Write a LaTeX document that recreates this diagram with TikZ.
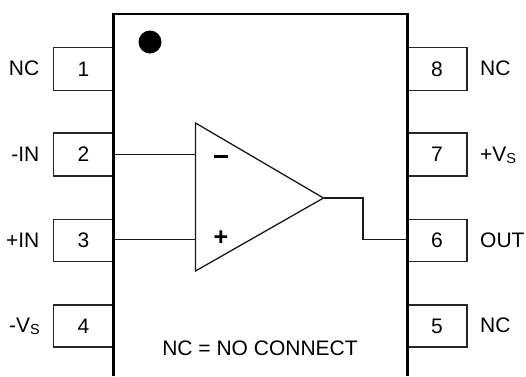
\documentclass[tikz,border=0pt]{standalone}
\usepackage{fontspec}
\setmainfont{Liberation Sans}
\newcommand{\subS}{\raisebox{-0.13em}{\fontsize{14.5}{14.5}\selectfont S}}
\tikzset{
  pinbox/.style={draw=black!85, line width=1.3pt, inner sep=0pt, minimum width=60pt, minimum height=43pt, fill=white, font=\fontsize{21}{24}\selectfont},
  lbl/.style={inner sep=0pt, font=\fontsize{21}{24}\selectfont},
  wire/.style={draw=black!90, line width=1.3pt, line join=miter},
  bodyline/.style={draw=black, line width=2.4pt, line join=miter},
  sign/.style={inner sep=0pt, font=\bfseries\fontsize{25}{27}\selectfont}
}
\begin{document}
\begin{tikzpicture}[x=1pt,y=-1pt]
\useasboundingbox (0,0) rectangle (526,376);
\fill[white] (0,0) rectangle (526,376);
% pins
\node[pinbox] (p1) at (83.5,69) {1};
\node[pinbox] (p2) at (83.5,154.5) {2};
\node[pinbox,minimum height=42pt] (p3) at (83.5,240.5) {3};
\node[pinbox,minimum height=42pt] (p4) at (83.5,326) {4};
\node[pinbox] (p8) at (437,69) {8};
\node[pinbox] (p7) at (437,154.5) {7};
\node[pinbox,minimum height=42pt] (p6) at (437,240.5) {6};
\node[pinbox,minimum height=42pt] (p5) at (437,326) {5};
% package
\coordinate (bl) at (113.5,376);
\coordinate (tl) at (113.5,13.7);
\coordinate (tr) at (407.3,13.7);
\coordinate (br) at (407.3,376);
\draw[bodyline] (bl) -- (tl) -- (tr) -- (br);
\node[circle,fill=black,inner sep=0pt,minimum size=23pt] (dot) at (150,42) {};
% amplifier
\coordinate (ta) at (195.5,123);
\coordinate (tb) at (195.5,271);
\coordinate (tc) at (323.5,198);
\coordinate (tm) at (195.5,154.5);
\coordinate (tp) at (195.5,239.7);
\coordinate (bw2) at (p2.east);
\coordinate (bw3) at (113.5,239.7);
\coordinate (bw6) at (407.3,239.7);
\draw[wire] (ta) -- (tc) -- (tb) -- cycle;
\draw[wire] (bw2) -- (tm);
\draw[wire] (bw3) -- (tp);
\draw[wire] (tc) -- (363,198) -- (363,239.7) -- (bw6);
\node[sign] (minus) at (221,156.5) {\rule{13.5pt}{3pt}};
\node[sign] (plus) at (221,238) {+};
% labels
\node[lbl,anchor=east] (l1) at (39.5,68) {NC};
\node[lbl,anchor=east] (l2) at (39.5,154) {-IN};
\node[lbl,anchor=east] (l3) at (39.5,240) {+IN};
\node[lbl,anchor=base east] (l4) at (40,332) {-V\subS};
\node[lbl,anchor=west] (l8) at (480,68) {NC};
\node[lbl,anchor=base west] (l7) at (480,161) {+V\subS};
\node[lbl,anchor=west] (l6) at (480,240) {OUT};
\node[lbl,anchor=west] (l5) at (480,325) {NC};
\node[lbl] (nc) at (260,348) {NC = NO CONNECT};
\end{tikzpicture}
\end{document}
